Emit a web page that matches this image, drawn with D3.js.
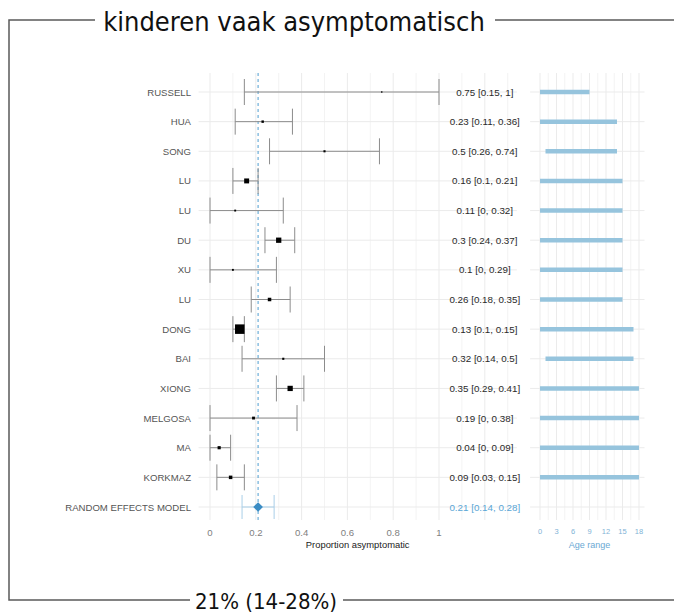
<!DOCTYPE html>
<html>
<head>
<meta charset="utf-8">
<script src="https://cdn.jsdelivr.net/npm/d3@7"></script>
<style>
  body { margin: 0; background: #fff; }
  text { font-family: "Liberation Sans", Arial, sans-serif; }
  text.big { font-family: "DejaVu Sans Condensed", "DejaVu Sans", sans-serif; }
</style>
</head>
<body>
<div class="chart"></div>
<script>
// studies, top to bottom
const studies = ["RUSSELL", "HUA", "SONG", "LU", "LU", "DU", "XU", "LU", "DONG", "BAI", "XIONG", "MELGOSA", "MA", "KORKMAZ"];
const estimate = [0.75, 0.23, 0.5, 0.16, 0.11, 0.3, 0.1, 0.26, 0.13, 0.32, 0.35, 0.19, 0.04, 0.09];
const lower = [0.15, 0.11, 0.26, 0.1, 0, 0.24, 0, 0.18, 0.1, 0.14, 0.29, 0, 0, 0.03];
const upper = [1, 0.36, 0.74, 0.21, 0.32, 0.37, 0.29, 0.35, 0.15, 0.5, 0.41, 0.38, 0.09, 0.15];
const weight = [1.7, 5.3, 4, 22, 3.2, 25, 3.2, 11, 81, 4, 25, 7.3, 9, 11];
const ageMin = [0, 0, 1, 0, 0, 0, 0, 0, 0, 1, 0, 0, 0, 0];
const ageMax = [9, 14, 14, 15, 15, 15, 15, 15, 17, 17, 18, 18, 18, 18];

// pooled estimate
const pooledLabel = "RANDOM EFFECTS MODEL";
const pooled = [0.21, 0.14, 0.28];

const propTicks = [0, 0.2, 0.4, 0.6, 0.8, 1];
const ageTicks = [0, 3, 6, 9, 12, 15, 18];

const title = "kinderen vaak asymptomatisch";
const footer = "21% (14-28%)";

const svg = d3.select('.chart')
    .append('svg')
        .attr("width", 674)
        .attr("height", 614)
        .style("display", "block")

const rows = d3.range(studies.length + 1);
const y = d3.scalePoint().domain(rows).range([92, 507]);
const x = d3.scaleLinear().domain([0, 1]).range([210, 439]);
const xAge = d3.scaleLinear().domain([0, 18]).range([540, 639]);
const size = d3.scaleSqrt().domain([0, 81]).range([0, 9.5]);

const panelTop = 73, panelBottom = 520;
const gridCol = "#ebebeb";

// ---- forest panel grid
const g = svg.append("g");
g.selectAll(".vgrid")
    .data(d3.range(0, 1.35, 0.1))
    .join("line")
    .attr("x1", d => x(d)).attr("x2", d => x(d))
    .attr("y1", panelTop).attr("y2", panelBottom)
    .attr("stroke", gridCol)
    .attr("stroke-width", (d, i) => i % 2 ? 0.6 : 1);
g.selectAll(".hgrid")
    .data(rows)
    .join("line")
    .attr("x1", x(-0.05)).attr("x2", x(1.34))
    .attr("y1", d => y(d)).attr("y2", d => y(d))
    .attr("stroke", gridCol);

// ---- age panel grid
g.selectAll(".agrid")
    .data(d3.range(0, 18.1, 1.5))
    .join("line")
    .attr("x1", d => xAge(d)).attr("x2", d => xAge(d))
    .attr("y1", panelTop).attr("y2", panelBottom)
    .attr("stroke", gridCol)
    .attr("stroke-width", (d, i) => i % 2 ? 0.6 : 1);
g.selectAll(".ahgrid")
    .data(rows)
    .join("line")
    .attr("x1", xAge(-1.8)).attr("x2", xAge(19))
    .attr("y1", d => y(d)).attr("y2", d => y(d))
    .attr("stroke", gridCol);

// dashed pooled line
svg.append("line")
    .attr("x1", x(pooled[0])).attr("x2", x(pooled[0]))
    .attr("y1", panelTop).attr("y2", panelBottom)
    .attr("stroke", "#4f9dd0")
    .attr("stroke-width", 1)
    .attr("stroke-dasharray", "3,3");

// ---- study whiskers
const study = svg.selectAll(".study")
    .data(studies)
    .join("g")
    .attr("class", "study");

study.append("line")
    .attr("x1", (d, i) => x(lower[i])).attr("x2", (d, i) => x(upper[i]))
    .attr("y1", (d, i) => y(i)).attr("y2", (d, i) => y(i))
    .attr("stroke", "#8c8c8c");
study.selectAll(".cap")
    .data((d, i) => [lower[i], upper[i]].map(v => ({v, i})))
    .join("line")
    .attr("x1", d => x(d.v)).attr("x2", d => x(d.v))
    .attr("y1", d => y(d.i) - 13).attr("y2", d => y(d.i) + 13)
    .attr("stroke", "#8c8c8c");
study.append("rect")
    .attr("x", (d, i) => x(estimate[i]) - size(weight[i]) / 2)
    .attr("y", (d, i) => y(i) - size(weight[i]) / 2)
    .attr("width", (d, i) => size(weight[i]))
    .attr("height", (d, i) => size(weight[i]))
    .attr("fill", "#000");

// study labels
svg.selectAll(".lab")
    .data(studies.concat([pooledLabel]))
    .join("text")
    .attr("x", 191)
    .attr("y", (d, i) => y(i) + 3.5)
    .attr("text-anchor", "end")
    .attr("font-size", 9.6)
    .attr("fill", "#555")
    .text(d => d);

// estimate text column
const fmt = (e, l, u) => `${e} [${l}, ${u}]`;
svg.selectAll(".est")
    .data(studies)
    .join("text")
    .attr("x", x(1.2))
    .attr("y", (d, i) => y(i) + 3.5)
    .attr("text-anchor", "middle")
    .attr("font-size", 9.8)
    .attr("fill", "#2a2a2a")
    .text((d, i) => fmt(estimate[i], lower[i], upper[i]));

// pooled row
const pr = studies.length;
svg.append("line")
    .attr("x1", x(pooled[1])).attr("x2", x(pooled[2]))
    .attr("y1", y(pr)).attr("y2", y(pr))
    .attr("stroke", "#a9cfe8");
svg.selectAll(".pcap")
    .data([pooled[1], pooled[2]])
    .join("line")
    .attr("x1", d => x(d)).attr("x2", d => x(d))
    .attr("y1", y(pr) - 12).attr("y2", y(pr) + 12)
    .attr("stroke", "#a9cfe8");
svg.append("path")
    .attr("d", d3.symbol(d3.symbolDiamond2, 60)())
    .attr("transform", `translate(${x(pooled[0])},${y(pr)})`)
    .attr("fill", "#3a8cc4");
svg.append("text")
    .attr("x", x(1.2))
    .attr("y", y(pr) + 3.5)
    .attr("text-anchor", "middle")
    .attr("font-size", 9.8)
    .attr("fill", "#5aa6d6")
    .text(fmt(pooled[0], pooled[1], pooled[2]));

// x axis labels
svg.selectAll(".xt")
    .data(propTicks)
    .join("text")
    .attr("x", d => x(d))
    .attr("y", 536)
    .attr("text-anchor", "middle")
    .attr("font-size", 9.6)
    .attr("fill", "#808080")
    .text(d => d);
svg.append("text")
    .attr("x", (x(-0.05) + x(1.34)) / 2)
    .attr("y", 548)
    .attr("text-anchor", "middle")
    .attr("font-size", 9.4)
    .attr("fill", "#222")
    .text("Proportion asymptomatic");

// ---- age bars
svg.selectAll(".age")
    .data(studies)
    .join("line")
    .attr("x1", (d, i) => xAge(ageMin[i])).attr("x2", (d, i) => xAge(ageMax[i]))
    .attr("y1", (d, i) => y(i)).attr("y2", (d, i) => y(i))
    .attr("stroke", "#96c4dd")
    .attr("stroke-width", 4.5);

svg.selectAll(".at")
    .data(ageTicks)
    .join("text")
    .attr("x", d => xAge(d))
    .attr("y", 534)
    .attr("text-anchor", "middle")
    .attr("font-size", 7.5)
    .attr("fill", "#7fb3d6")
    .text(d => d);
svg.append("text")
    .attr("x", xAge(9))
    .attr("y", 548)
    .attr("text-anchor", "middle")
    .attr("font-size", 9)
    .attr("fill", "#6aa9d4")
    .text("Age range");

// ---- frame with title and footer
const frame = "#5a5a5a";
svg.append("path")
    .attr("d", "M95,20 H9 V600 H190")
    .attr("fill", "none").attr("stroke", frame).attr("stroke-width", 1.5);
svg.append("line")
    .attr("x1", 495).attr("x2", 674).attr("y1", 20).attr("y2", 20)
    .attr("stroke", frame).attr("stroke-width", 1.5);
svg.append("line")
    .attr("x1", 343).attr("x2", 674).attr("y1", 600).attr("y2", 600)
    .attr("stroke", frame).attr("stroke-width", 1.5);

svg.append("text")
    .attr("class", "big")
    .attr("x", 294)
    .attr("y", 31)
    .attr("text-anchor", "middle")
    .attr("font-size", 27)
    .attr("fill", "#111")
    .text(title);
svg.append("text")
    .attr("class", "big")
    .attr("x", 266)
    .attr("y", 609)
    .attr("text-anchor", "middle")
    .attr("font-size", 22)
    .attr("fill", "#111")
    .text(footer);
</script>
</body>
</html>
